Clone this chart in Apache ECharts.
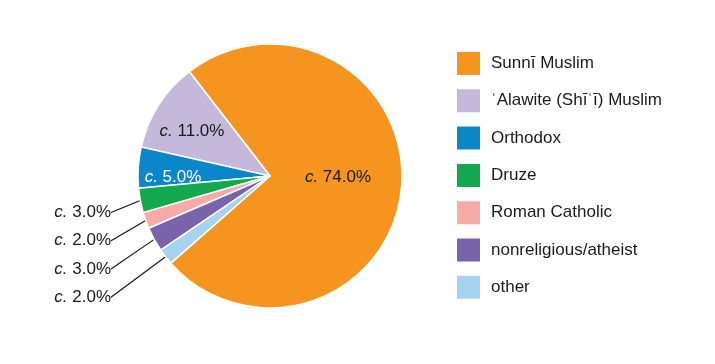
<!DOCTYPE html>
<html>
<head>
<meta charset="utf-8">
<script src="https://cdn.jsdelivr.net/npm/echarts@6/dist/echarts.min.js"></script>
<style>
  html, body { margin: 0; padding: 0; background: #fff; }
  #chart { width: 715px; height: 364px; }
</style>
</head>
<body>
<div id="chart"></div>
<script>
// ---- data ----
const categories = ['Sunnī Muslim', 'ʿAlawite (Shīʿī) Muslim', 'Orthodox', 'Druze', 'Roman Catholic', 'nonreligious/atheist', 'other'];
const shares = [74, 11, 5, 3, 2, 3, 2];
const colors = ['#F5951F', '#C4B9DB', '#0B86C9', '#12A94F', '#F6ABA8', '#7B63AB', '#A5D3F0'];

// ---- layout / style ----
const CX = 270, CY = 176, R = 132;
const FONT = '"Liberation Sans", Arial, Helvetica, sans-serif';
// label anchors relative to the pie centre (inside labels centred, outside labels right-aligned)
const labelAnchors = [[68, 1], [-78, -45], [-97, 1], [-159, 36.5], [-159, 64.7], [-159, 93], [-159, 121.2]];
const insideCount = 3;
const labelColors = ['#1a1a1a', '#1a1a1a', '#ffffff', '#1a1a1a', '#1a1a1a', '#1a1a1a', '#1a1a1a'];

const chart = echarts.init(document.getElementById('chart'), null, { renderer: 'canvas' });

const data = categories.map((name, i) => {
  const inside = i < insideCount;
  const c = labelColors[i];
  return {
    name: name,
    value: shares[i],
    itemStyle: { color: colors[i] },
    label: {
      position: inside ? 'inside' : 'outside',
      color: c,
      rich: {
        i: { fontStyle: 'italic', color: c, fontSize: 17, fontFamily: FONT },
        n: { color: c, fontSize: 17, fontFamily: FONT }
      }
    },
    labelLine: { show: !inside }
  };
});

chart.setOption({
  animation: false,
  backgroundColor: '#ffffff',
  legend: {
    orient: 'vertical',
    left: 455,
    top: 50,
    itemWidth: 25,
    itemHeight: 25,
    itemGap: 10.3,
    icon: 'rect',
    padding: 0,
    selectedMode: false,
    textStyle: { fontSize: 17, lineHeight: 20, fontFamily: FONT, color: '#1a1a1a', padding: [0, 0, 0, 5] },
    data: categories
  },
  series: [{
    type: 'pie',
    center: [CX, CY],
    radius: R,
    startAngle: 221.3,
    clockwise: false,
    avoidLabelOverlap: false,
    silent: true,
    itemStyle: { borderColor: '#ffffff', borderWidth: 1.5 },
    label: {
      show: true,
      fontSize: 17,
      fontFamily: FONT,
      formatter: p => '{i|c.}{n| ' + p.value.toFixed(1) + '%}'
    },
    labelLine: {
      show: true,
      length: 10,
      length2: 0,
      lineStyle: { color: '#111', width: 1.1 }
    },
    labelLayout: function (params) {
      const i = params.dataIndex;
      const a = labelAnchors[i];
      const inside = i < insideCount;
      return {
        x: CX + a[0],
        y: CY + a[1],
        align: inside ? 'center' : 'right',
        verticalAlign: 'middle'
      };
    },
    data: data
  }]
});
</script>
</body>
</html>
